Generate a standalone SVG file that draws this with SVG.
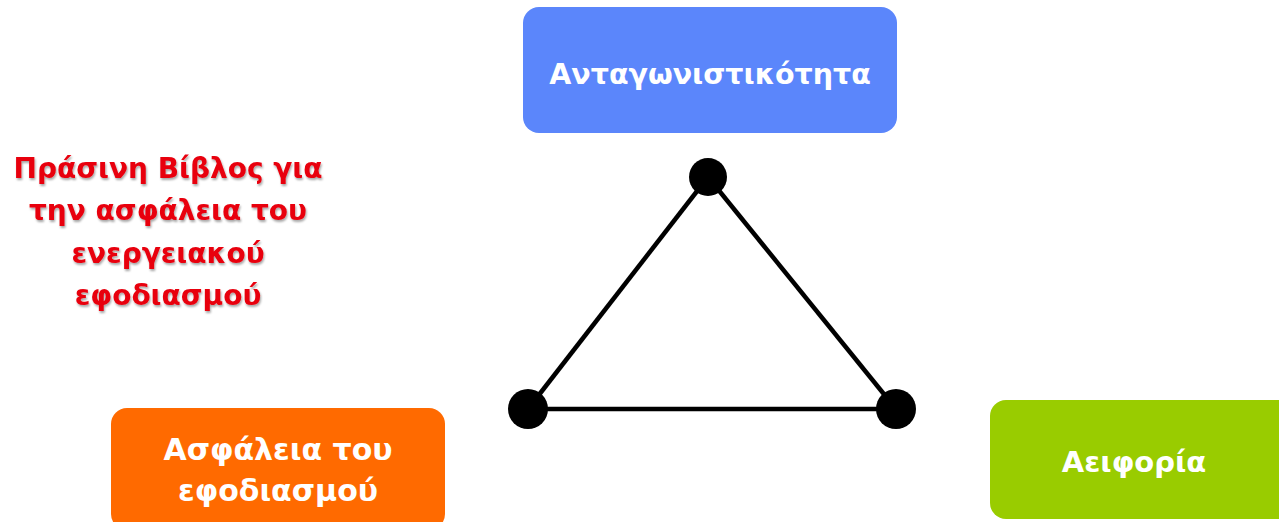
<svg xmlns="http://www.w3.org/2000/svg" width="1279" height="522" viewBox="0 0 1279 522">
<defs>
<style>
.lbl{font-family:"DejaVu Sans","Liberation Sans",sans-serif;font-weight:bold;fill:#fff;text-anchor:middle;font-size:29px}
.red{font-family:"DejaVu Sans","Liberation Sans",sans-serif;font-weight:bold;fill:#e8060f;text-anchor:middle;font-size:28px}
.edge{stroke:#000;stroke-width:4.5;fill:none}
.dot{fill:#000}
</style>
<filter id="sh" x="-10%" y="-10%" width="120%" height="130%">
<feDropShadow dx="1" dy="2" stdDeviation="1" flood-color="#000" flood-opacity="0.35"/>
</filter>
</defs>
<rect width="1279" height="522" fill="#fff"/>
<g id="title">
<text class="red" filter="url(#sh)"><tspan x="168" y="178">Πράσινη Βίβλος για</tspan><tspan x="168" y="220">την ασφάλεια του</tspan><tspan x="168" y="263">ενεργειακού</tspan><tspan x="168" y="305">εφοδιασμού</tspan></text>
</g>
<g id="connectors">
<line class="edge" x1="708" y1="177" x2="528" y2="409"/>
<line class="edge" x1="708" y1="177" x2="896" y2="409"/>
<line class="edge" x1="528" y1="409" x2="896" y2="409"/>
</g>
<g id="dot-top"><circle class="dot" cx="708" cy="177" r="19"/></g>
<g id="dot-left"><circle class="dot" cx="528" cy="409" r="20"/></g>
<g id="dot-right"><circle class="dot" cx="896" cy="409" r="20"/></g>
<g id="node-competitiveness">
<rect x="523" y="7" width="374" height="126" rx="16" fill="#5b86fb"/>
<text class="lbl" x="710" y="84" style="font-size:28.5px">Ανταγωνιστικότητα</text>
</g>
<g id="node-security">
<rect x="111" y="408" width="334" height="122" rx="16" fill="#ff6a00"/>
<text class="lbl" style="font-size:30px"><tspan x="278" y="460">Ασφάλεια του</tspan><tspan x="278" y="501">εφοδιασμού</tspan></text>
</g>
<g id="node-sustainability">
<rect x="990" y="400" width="310" height="119" rx="16" fill="#99cc00"/>
<text class="lbl" x="1134" y="472">Αειφορία</text>
</g>
</svg>
